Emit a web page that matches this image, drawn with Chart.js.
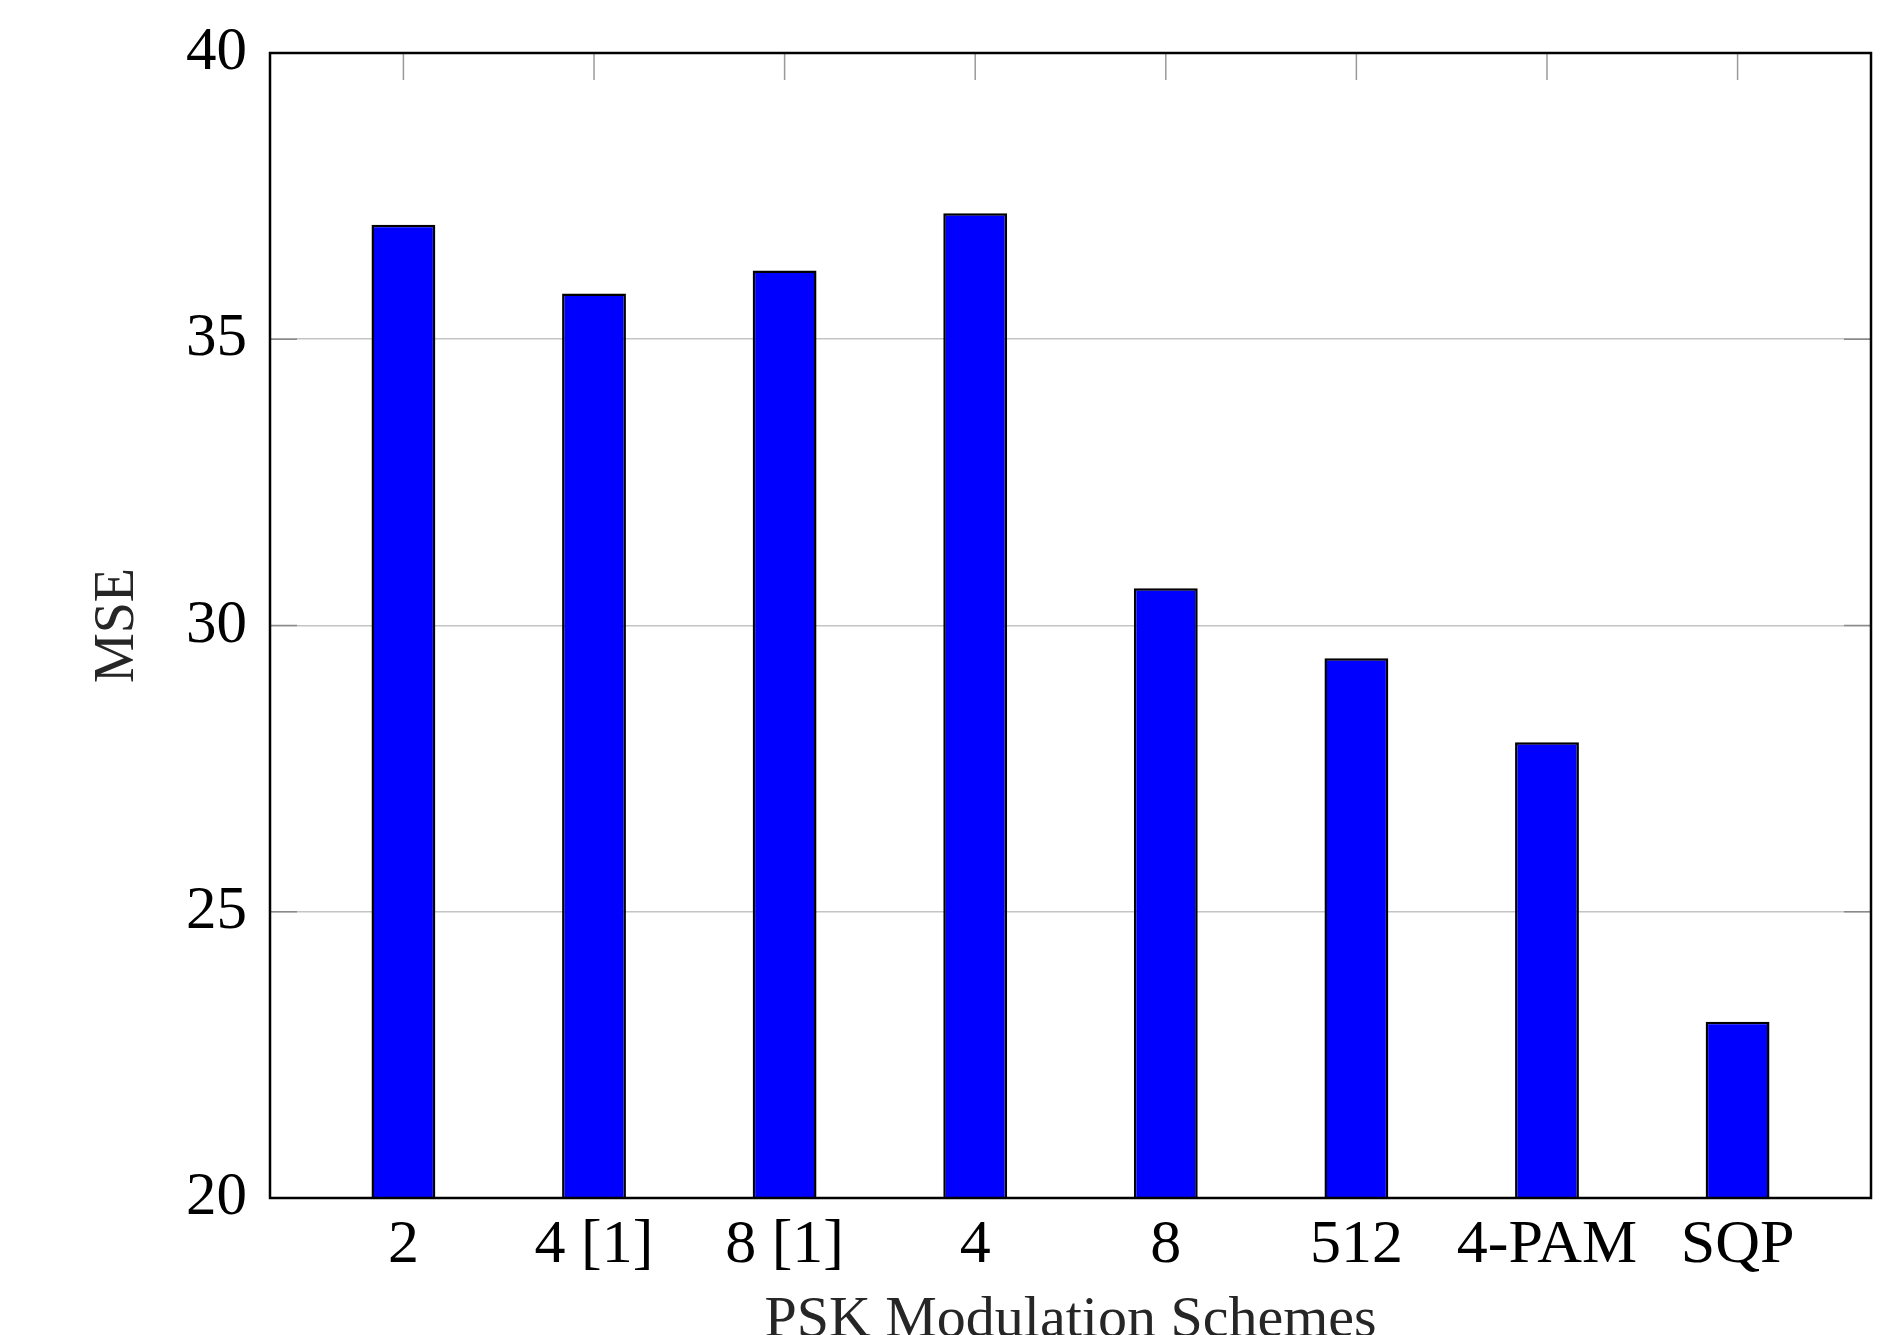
<!DOCTYPE html>
<html>
<head>
<meta charset="utf-8">
<script src="https://cdn.jsdelivr.net/npm/chart.js@4.4.0/dist/chart.umd.min.js"></script>
<style>
  html, body { margin: 0; padding: 0; background: #fff; overflow: hidden; }
  #wrap { width: 1890px; height: 1360px; }
</style>
</head>
<body>
<div id="wrap"><canvas id="mseChart" width="1890" height="1360"></canvas></div>
<script>
const categories = ["2", "4 [1]", "8 [1]", "4", "8", "512", "4-PAM", "SQP"];
const mseValues = [37.0, 35.8, 36.2, 37.2, 30.65, 29.43, 27.96, 23.08];
const yTicks = [20, 25, 30, 35, 40];

const serif = "'Liberation Serif', 'Times New Roman', serif";

// frame around the plot plus the small inward tick marks (pgfplots style)
const frameAndTicks = {
  id: "frameAndTicks",
  beforeDatasetsDraw(chart) {
    const { ctx, chartArea: a, scales } = chart;
    ctx.save();
    ctx.lineWidth = 1.5;
    ctx.strokeStyle = "#9a9a9a";
    scales.x.ticks.forEach((t) => {
      const px = scales.x.getPixelForValue(t.value);
      ctx.beginPath();
      ctx.moveTo(px, a.top);
      ctx.lineTo(px, a.top + 27);
      ctx.moveTo(px, a.bottom);
      ctx.lineTo(px, a.bottom - 27);
      ctx.stroke();
    });
    ctx.strokeStyle = "#8a8a8a";
    yTicks.forEach((v) => {
      const py = scales.y.getPixelForValue(v);
      ctx.beginPath();
      ctx.moveTo(a.left, py);
      ctx.lineTo(a.left + 27, py);
      ctx.moveTo(a.right, py);
      ctx.lineTo(a.right - 27, py);
      ctx.stroke();
    });
    ctx.restore();
  },
  afterDatasetsDraw(chart) {
    const { ctx, chartArea: a } = chart;
    ctx.save();
    ctx.lineWidth = 2.5;
    ctx.strokeStyle = "#000";
    ctx.strokeRect(a.left, a.top, a.right - a.left, a.bottom - a.top);
    ctx.restore();
  },
};

const ctx = document.getElementById("mseChart").getContext("2d");
new Chart(ctx, {
  type: "bar",
  data: {
    datasets: [
      {
        label: "MSE",
        data: categories.map((c, i) => ({ x: i, y: mseValues[i] })),
        backgroundColor: "#0000ff",
        borderColor: "#000",
        borderWidth: 2.5,
        borderSkipped: false,
        barPercentage: 0.335,
        categoryPercentage: 1,
      },
    ],
  },
  options: {
    responsive: false,
    animation: false,
    layout: { padding: { top: 53, right: 19, left: 0, bottom: 0 } },
    plugins: { legend: { display: false }, tooltip: { enabled: false } },
    scales: {
      x: {
        type: "linear",
        min: -0.7,
        max: 7.7,
        offset: false,
        grid: { display: false },
        border: { display: false },
        afterBuildTicks: (scale) => {
          scale.ticks = categories.map((c, i) => ({ value: i }));
        },
        afterFit: (scale) => {
          scale.height = 162;
        },
        ticks: {
          autoSkip: false,
          maxRotation: 0,
          padding: 3,
          color: "#000",
          font: { family: serif, size: 62 },
          callback: (v) => categories[v],
        },
        title: {
          display: true,
          text: "PSK Modulation Schemes",
          color: "#262626",
          font: { family: serif, size: 58 },
          padding: { top: 0, bottom: 4 },
        },
      },
      y: {
        min: 20,
        max: 40,
        grid: { color: "#c4c4c4", lineWidth: 1.6, drawTicks: false },
        border: { display: false },
        afterFit: (scale) => {
          scale.width = 270;
        },
        ticks: {
          stepSize: 5,
          padding: 23,
          color: "#000",
          font: { family: serif, size: 61, lineHeight: 0.9 },
        },
        title: {
          display: true,
          text: "MSE",
          color: "#262626",
          font: { family: serif, size: 56 },
          padding: { top: 85, bottom: 0 },
        },
      },
    },
  },
  plugins: [frameAndTicks],
});
</script>
</body>
</html>
